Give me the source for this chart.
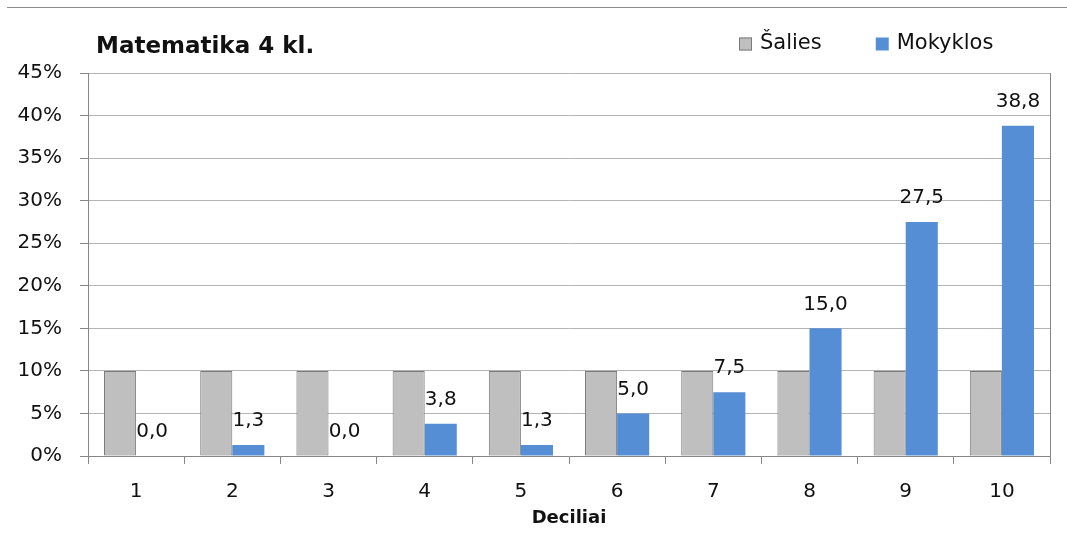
<!DOCTYPE html>
<html>
<head>
<meta charset="utf-8">
<script src="https://cdn.jsdelivr.net/npm/chart.js@4.4.1/dist/chart.umd.min.js"></script>
<style>
    html, body { margin: 0; padding: 0; background: #fff; }
    #frame-line { position: absolute; left: 7px; top: 7px; width: 1060px; height: 0; border-top: 1px solid #8c8c8c; }
    #wrap { position: absolute; left: 0; top: 0; width: 1067px; height: 535px; }
</style>
</head>
<body>
<div id="wrap"><canvas id="myChart" width="1067" height="535"></canvas></div>
<div id="frame-line"></div>
<script>
const chartTitle = "Matematika 4 kl.";
const categories = ["1", "2", "3", "4", "5", "6", "7", "8", "9", "10"];
const saliesValues = [10, 10, 10, 10, 10, 10, 10, 10, 10, 10];
const mokyklosValues = [0.0, 1.3, 0.0, 3.8, 1.3, 5.0, 7.5, 15.0, 27.5, 38.8];
const yMax = 45;
const yStep = 5;
const xTitle = "Deciliai";

const FONT = "'DejaVu Sans', Verdana, sans-serif";
const TEXT = "#111111";

// title + legend on one row, right border of the plot, value labels
const extras = {
    id: "extras",
    afterDatasetsDraw(chart) {
        const ctx = chart.ctx;
        const area = chart.chartArea;

        ctx.save();
        ctx.strokeStyle = "#868686";
        ctx.lineWidth = 1;
        ctx.beginPath();
        ctx.moveTo(Math.round(area.right) + 0.5, area.top);
        ctx.lineTo(Math.round(area.right) + 0.5, area.bottom);
        ctx.stroke();

        // labels over Mokyklos bars
        const meta = chart.getDatasetMeta(1);
        ctx.fillStyle = TEXT;
        ctx.font = "20px " + FONT;
        ctx.textAlign = "center";
        ctx.textBaseline = "bottom";
        meta.data.forEach((bar, i) => {
            const txt = mokyklosValues[i].toFixed(1).replace(".", ",");
            ctx.fillText(txt, bar.x, bar.y - 14);
        });
        ctx.restore();
    },
    afterDraw(chart) {
        const ctx = chart.ctx;
        ctx.save();
        ctx.fillStyle = TEXT;
        ctx.textBaseline = "middle";
        ctx.font = "bold 23px " + FONT;
        ctx.textAlign = "left";
        ctx.fillText(chartTitle, 96, 47);

        // legend
        ctx.font = "21px " + FONT;
        let x = 739;
        const y = 44;
        chart.data.datasets.forEach((ds) => {
            ctx.fillStyle = ds.backgroundColor;
            ctx.fillRect(x, y - 6.5, 13, 13);
            if (ds.borderWidth) {
                ctx.strokeStyle = ds.borderColor;
                ctx.lineWidth = 1;
                ctx.strokeRect(x + 0.5, y - 6, 12, 12);
            }
            ctx.fillStyle = TEXT;
            ctx.fillText(ds.label, x + 21, y);
            x += 21 + ctx.measureText(ds.label).width + 54;
        });
        ctx.restore();
    },
};

const ctx = document.getElementById("myChart").getContext("2d");
new window.Chart(ctx, {
    type: "bar",
    data: {
        labels: categories,
        datasets: [
            {
                label: "Šalies",
                data: saliesValues,
                backgroundColor: "#bfbfbf",
                borderColor: "#7a7a7a",
                borderWidth: 1,
                borderSkipped: false,
            },
            {
                label: "Mokyklos",
                data: mokyklosValues,
                backgroundColor: "#558ed5",
                borderWidth: 0,
            },
        ],
    },
    options: {
        responsive: false,
        animation: false,
        events: [],
        layout: {
            padding: { top: 73, right: 17, bottom: 0, left: 0 },
        },
        datasets: {
            bar: { categoryPercentage: 0.667, barPercentage: 1.0 },
        },
        plugins: {
            legend: { display: false },
            tooltip: { enabled: false },
        },
        scales: {
            x: {
                afterFit: (scale) => { scale.height = 79; },
                grid: {
                    offset: true,
                    drawOnChartArea: false,
                    tickLength: 8,
                    tickColor: "#868686",
                },
                border: { color: "#868686" },
                ticks: {
                    padding: 16,
                    color: TEXT,
                    font: { family: FONT, size: 20 },
                },
                title: {
                    display: true,
                    text: xTitle,
                    color: TEXT,
                    font: { family: FONT, size: 18, weight: "bold" },
                    padding: { top: 0, bottom: 6 },
                },
            },
            y: {
                min: 0,
                max: yMax,
                afterFit: (scale) => { scale.width = 88; },
                grid: {
                    color: "#b4b4b4",
                    tickLength: 8,
                    tickColor: "#868686",
                },
                border: { color: "#868686" },
                ticks: {
                    stepSize: yStep,
                    padding: 18,
                    color: TEXT,
                    font: { family: FONT, size: 20 },
                    callback: (v) => v + "%",
                },
            },
        },
    },
    plugins: [extras],
});
</script>
</body>
</html>
